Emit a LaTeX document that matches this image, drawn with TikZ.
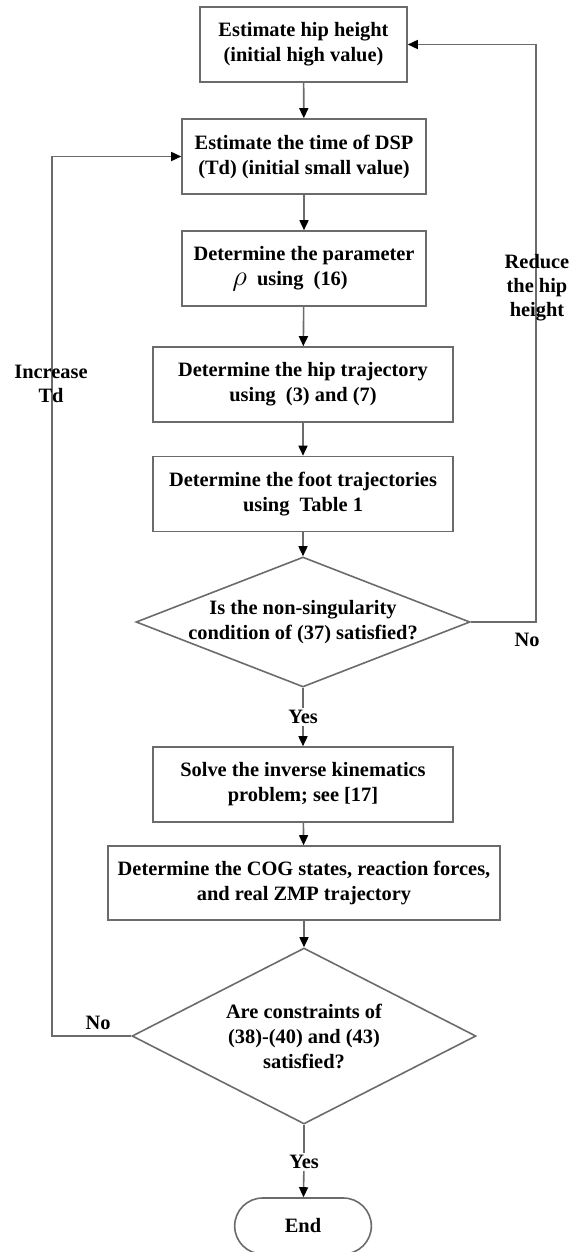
\documentclass[tikz,border=0pt]{standalone}
\usepackage{amsmath,amssymb}
\usepackage{fontspec}
\setmainfont{Liberation Serif}
\usepackage{tikz}
\usetikzlibrary{positioning, arrows.meta, shapes.geometric, shapes.misc}

\definecolor{lnclr}{gray}{0.42}

\tikzset{
    stepbox/.style={draw=lnclr, line width=0.8pt, rectangle, align=center, minimum height=37.5pt, inner sep=2pt,
        font=\fontsize{10.2}{12.5}\selectfont\bfseries},
    decbox/.style={draw=lnclr, line width=0.8pt, diamond, align=center, inner sep=0pt,
        font=\fontsize{10.2}{12.5}\selectfont\bfseries},
    endbox/.style={draw=lnclr, line width=0.8pt, rounded rectangle, align=center,
        font=\fontsize{10.2}{12.5}\selectfont\bfseries},
    lbl/.style={align=center, inner sep=1pt, font=\fontsize{10.2}{12}\selectfont\bfseries},
    arr/.style={draw=lnclr, line width=0.8pt, -{Triangle[length=5pt, width=4.5pt, color=black]}},
    ln/.style={draw=lnclr, line width=0.8pt}
}

\begin{document}
\begin{tikzpicture}[x=0.5pt, y=-0.5pt]
    \useasboundingbox (0,0) rectangle (579,1252);

    % Process boxes
    \node[stepbox, minimum width=103.5pt] (box1) at (303.5,44.5) {Estimate hip height\\(initial high value)};
    \node[stepbox, minimum width=122pt] (box2) at (304,156.5) {Estimate the time of DSP\\(Td) (initial small value)};
    \node[stepbox, minimum width=122pt] (box3) at (304,268.5) {Determine the parameter\\{\fontsize{14}{12.5}\selectfont$\rho$}\ \ using\ \ (16)\hspace*{14pt}};
    \node[stepbox, minimum width=150pt] (box4) at (303,384.5) {Determine the hip trajectory\\using\ \ (3) and (7)};
    \node[stepbox, minimum width=150pt] (box5) at (303,494) {Determine the foot trajectories\\using\ \ Table 1};

    % First check
    \node[decbox, aspect=2.57, inner xsep=-8pt, minimum width=167pt, minimum height=65pt] (dec1) at (303,622)
        {Is the non-singularity\\condition of (37) satisfied?};
    \node[lbl] (yes1) at (303,717) {Yes};

    \node[stepbox, minimum width=150pt] (box6) at (303,784.5) {Solve the inverse kinematics\\problem; see [17]};
    \node[stepbox, minimum width=196pt, minimum height=37pt] (box7) at (304,883) {Determine the COG states, reaction forces,\\and real ZMP trajectory};

    % Second check
    \node[decbox, aspect=1.95, minimum width=172pt, minimum height=88pt] (dec2) at (304,1036)
        {Are constraints of\\(38)-(40) and (43)\\satisfied?};
    \node[lbl] (yes2) at (304,1162) {Yes};

    \node[endbox, minimum width=75pt, minimum height=28pt] (fin) at (303,1226) {End};

    % Main flow
    \foreach \a/\b in {box1/box2, box2/box3, box3/box4, box4/box5, box5/dec1, yes1/box6, box6/box7, box7/dec2, yes2/fin} {
        \draw[arr] (\a) -- (\b);
    }
    \draw[ln] (dec1) -- (yes1);
    \draw[ln] (dec2) -- (yes2);

    % Feedback loops
    \draw[arr] (dec1.east) -- (536,622) -- (536,44.5) -- (box1.east);
    \draw[arr] (dec2.west) -- (52,1036) |- (box2.west);

    % Loop labels
    \node[lbl] (no1) at (527,640) {No};
    \node[lbl] (reduce) at (537,288) {Reduce\\the hip\\height};
    \node[lbl] (no2) at (98,1023) {No};
    \node[lbl] (increase) at (51,384) {Increase\\Td};
\end{tikzpicture}
\end{document}
